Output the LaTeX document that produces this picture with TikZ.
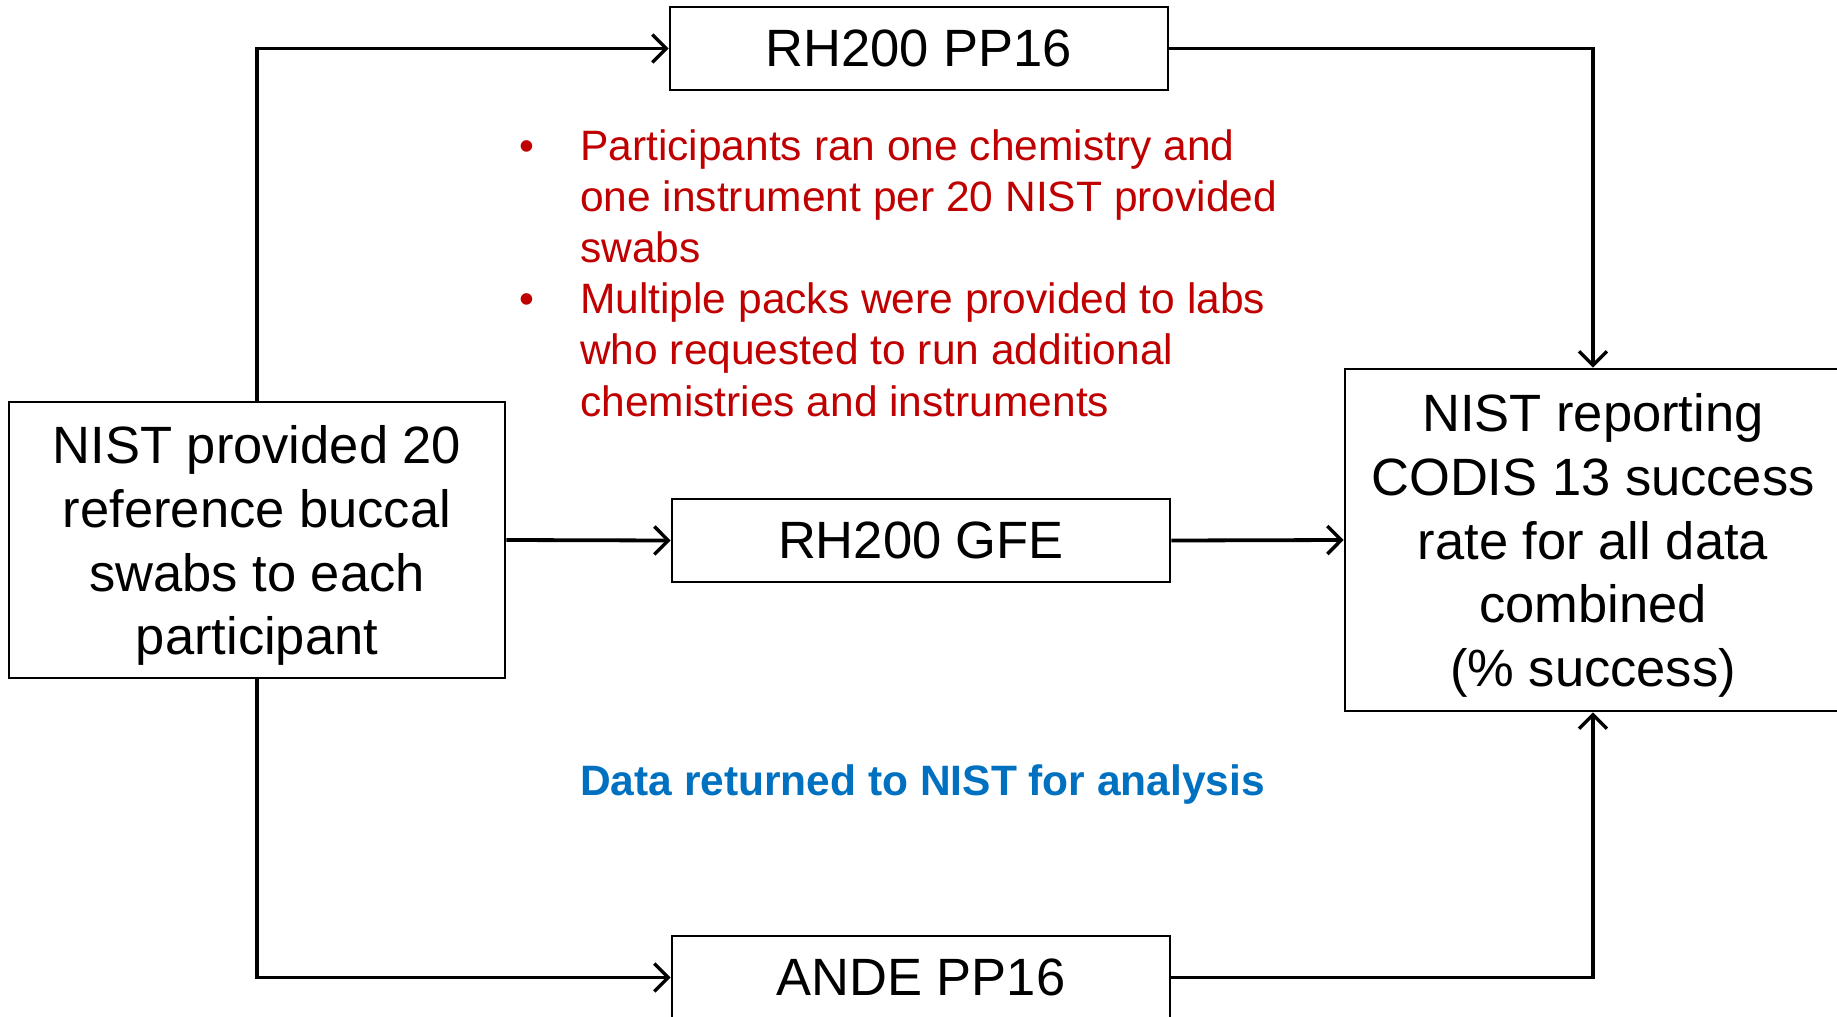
\documentclass[tikz,border=0pt]{standalone}
\usepackage{fontspec}
\setmainfont{Liberation Sans}
\usetikzlibrary{arrows.meta}
\definecolor{notered}{HTML}{C00000}
\definecolor{noteblue}{HTML}{0070C0}
\newcommand{\bigtext}{\fontsize{52.5}{63.9}\selectfont}
\newcommand{\smalltext}{\fontsize{42.5}{51.2}\selectfont}
\tikzset{
  stagebox/.style={draw=black, line width=2.6pt, inner sep=0pt, align=center, font=\bigtext, text=black},
  boxtext/.style={inner sep=0pt, align=center, font=\bigtext, text=black},
  conn/.style={line width=3.8pt, -{Straight Barb[length=14pt,width=28pt,line width=3.4pt]}},
}
\begin{document}
\begin{tikzpicture}[x=1pt,y=-1pt]
\useasboundingbox (0,0) rectangle (1837,1017);
\clip (0,0) rectangle (1837,1017);
\fill[white] (0,0) rectangle (1837,1017);

\node[stagebox, minimum width=496pt, minimum height=276pt] (src) at (257,540) {};
\node[boxtext] (srctext) at ([yshift=-5.5pt]src.center)
  {NIST provided 20\\reference buccal\\swabs to each\\participant};
\node[stagebox, minimum width=498pt, minimum height=83pt] (top) at (919,48.5) {RH200 PP16};
\node[stagebox, minimum width=498pt, minimum height=83pt] (mid) at (921,540.5) {RH200 GFE};
\node[stagebox, minimum width=498pt, minimum height=83pt] (bot) at (921,977.5) {ANDE PP16};
\node[stagebox, minimum width=496pt, minimum height=342pt] (res) at (1593,540) {};
\node[boxtext] (restext) at ([yshift=-5.5pt]res.center)
  {NIST reporting\\CODIS 13 success\\rate for all data\\combined\\(\% success)};

\node[anchor=base west, inner sep=0pt, text=notered, font=\smalltext] (notes) at (519,160)
  {\begin{tabular}[t]{@{}p{61pt}@{}l@{}}
   \textbullet & Participants ran one chemistry and\\
    & one instrument per 20 NIST provided\\
    & swabs\\
   \textbullet & Multiple packs were provided to labs\\
    & who requested to run additional\\
    & chemistries and instruments
   \end{tabular}};

\node[anchor=base west, inner sep=0pt, text=noteblue, font=\smalltext\bfseries] (ret) at (580,795)
  {Data returned to NIST for analysis};

\draw[conn] (src.north) |- (top.west);
\draw[conn] (top.east) -| (res.north);
\draw[conn] (src.east) -- (mid.west);
\draw[conn] (mid.east) -- (res.west);
\draw[conn] (src.south) |- (bot.west);
\draw[conn] (bot.east) -| (res.south);
\end{tikzpicture}
\end{document}
